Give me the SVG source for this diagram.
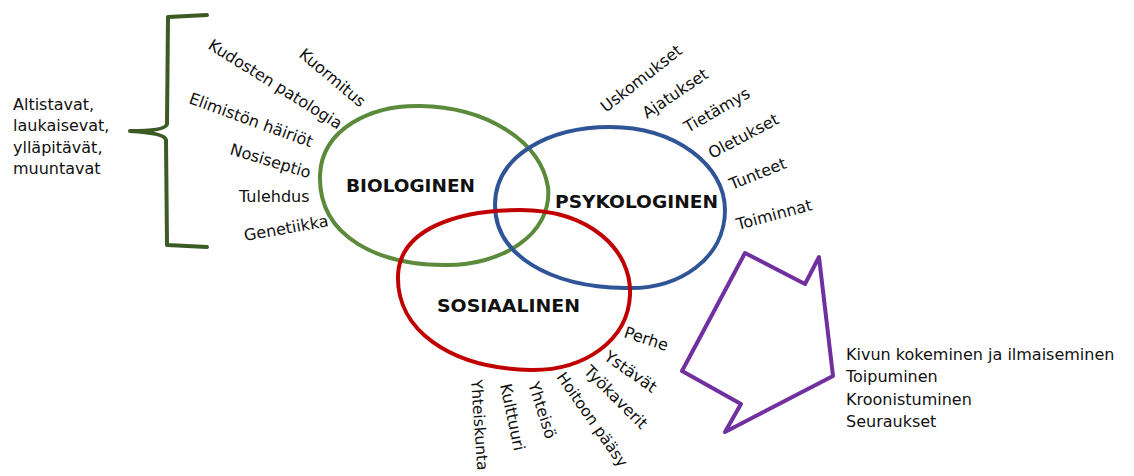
<svg xmlns="http://www.w3.org/2000/svg" width="1134" height="476" viewBox="0 0 1134 476">
<style>
.t{font-family:"DejaVu Sans","Liberation Sans",sans-serif;font-size:16px;fill:#111}
.h{font-family:"DejaVu Sans","Liberation Sans",sans-serif;font-size:18px;font-weight:bold;fill:#111}
.c{fill:none;stroke-width:4;stroke-linecap:round;stroke-linejoin:round}
</style>
<rect width="1134" height="476" fill="#fff"/>
<g id="brace">
<path class="c" stroke="#3b5a24" d="M207,15 L168,17 L167,124 Q166,131 130,131 Q165,133 166,140 L167,245 L207,247"/>
<text class="t" x="13" y="110">Altistavat,</text>
<text class="t" x="13" y="131">laukaisevat,</text>
<text class="t" x="13" y="153">ylläpitävät,</text>
<text class="t" x="13" y="174">muuntavat</text>
</g>
<g id="biologinen">
<path class="c" stroke="#5b8a3a" d="M320,175 C322,128 372,105 420,106 C485,107 540,140 548,187 C553,235 500,266 445,265 C380,265 318,238 320,175 Z"/>
<text class="h" x="346" y="192" textLength="129" lengthAdjust="spacingAndGlyphs">BIOLOGINEN</text>
<text class="t" transform="translate(298,56) rotate(40)">Kuormitus</text>
<text class="t" transform="translate(207,48) rotate(32)">Kudosten patologia</text>
<text class="t" transform="translate(188,103) rotate(20)">Elimistön häiriöt</text>
<text class="t" transform="translate(229,154) rotate(17)">Nosiseptio</text>
<text class="t" x="239" y="202">Tulehdus</text>
<text class="t" transform="translate(245,241) rotate(-10)">Genetiikka</text>
</g>
<g id="psykologinen">
<path class="c" stroke="#2f5597" d="M495,205 C495,155 550,127 610,127 C675,127 725,165 725,210 C725,258 680,290 625,288 C550,287 495,255 495,205 Z"/>
<text class="h" x="555" y="208" textLength="163" lengthAdjust="spacingAndGlyphs">PSYKOLOGINEN</text>
<text class="t" transform="translate(606,113) rotate(-38)">Uskomukset</text>
<text class="t" transform="translate(647,119) rotate(-34)">Ajatukset</text>
<text class="t" transform="translate(688,133) rotate(-30)">Tietämys</text>
<text class="t" transform="translate(712,159) rotate(-28)">Oletukset</text>
<text class="t" transform="translate(732,190) rotate(-22)">Tunteet</text>
<text class="t" transform="translate(738,230) rotate(-15)">Toiminnat</text>
</g>
<g id="sosiaalinen">
<path class="c" stroke="#c00000" d="M398,275 C400,230 455,210 520,210 C590,210 632,250 630,295 C628,340 585,371 530,370 C450,368 396,330 398,275 Z"/>
<text class="h" x="437" y="312" textLength="143" lengthAdjust="spacingAndGlyphs">SOSIAALINEN</text>
<text class="t" transform="translate(623,337) rotate(18)">Perhe</text>
<text class="t" transform="translate(603,359) rotate(35)">Ystävät</text>
<text class="t" transform="translate(583,372) rotate(45)">Työkaverit</text>
<text class="t" transform="translate(556,377) rotate(55)" style="font-size:15.5px">Hoitoon pääsy</text>
<text class="t" transform="translate(528,384) rotate(72)">Yhteisö</text>
<text class="t" transform="translate(500,385) rotate(78)">Kulttuuri</text>
<text class="t" transform="translate(471,380) rotate(86)" style="font-size:15.5px">Yhteiskunta</text>
</g>
<g id="seuraukset">
<polygon class="c" stroke="#7030a0" points="745,253 805,284 819,257 833,376 725,432 741,404 682,371 713,313"/>
<text class="t" x="846" y="360">Kivun kokeminen ja ilmaiseminen</text>
<text class="t" x="846" y="382">Toipuminen</text>
<text class="t" x="846" y="405">Kroonistuminen</text>
<text class="t" x="846" y="427">Seuraukset</text>
</g>
<g id="connectors"></g>
</svg>
